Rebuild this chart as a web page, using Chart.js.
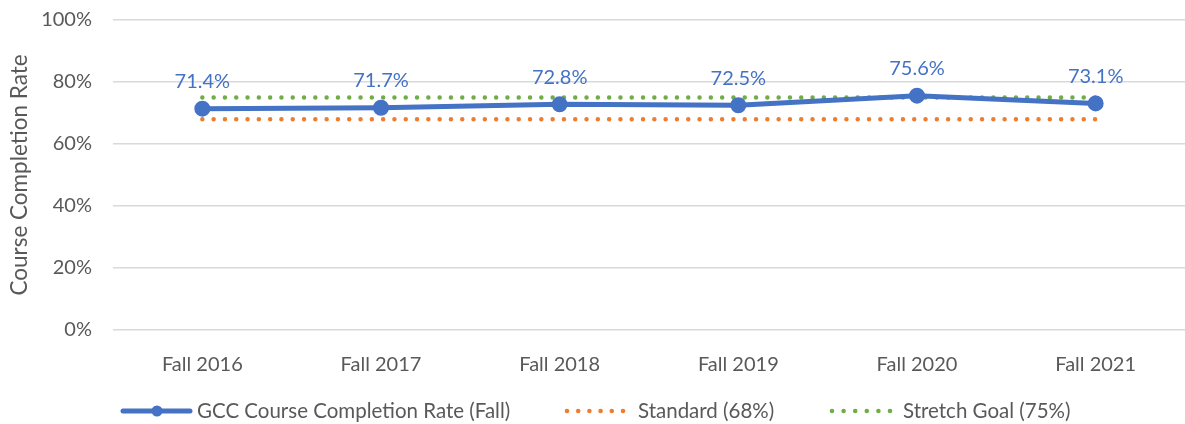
<!DOCTYPE html>
<html>
<head>
<meta charset="utf-8">
<script src="https://cdn.jsdelivr.net/npm/chart.js@4.4.0/dist/chart.umd.min.js"></script>
<style>
  html, body { margin: 0; padding: 0; background: #fff; overflow: hidden; }
  canvas { display: block; }
</style>
</head>
<body>
<canvas id="line-chart" width="1185" height="424"></canvas>
<script>
var terms = ['Fall 2016', 'Fall 2017', 'Fall 2018', 'Fall 2019', 'Fall 2020', 'Fall 2021'];
var completion = [71.4, 71.7, 72.8, 72.5, 75.6, 73.1];
var standard = [68, 68, 68, 68, 68, 68];
var stretch = [75, 75, 75, 75, 75, 75];
var yTicks = [0, 20, 40, 60, 80, 100];

var blue = '#4472C4', orange = '#ED7D31', green = '#70AD47', grey = '#595959';
var font = 'Lato, "Open Sans", sans-serif';

// value labels above the blue line
var valueLabels = {
  id: 'valueLabels',
  afterDatasetsDraw: function (chart) {
    var meta = chart.getDatasetMeta(0);
    var ctx = chart.ctx;
    ctx.save();
    ctx.font = '20px ' + font;
    ctx.fillStyle = blue;
    ctx.textAlign = 'center';
    ctx.textBaseline = 'bottom';
    meta.data.forEach(function (pt, i) {
      ctx.fillText(completion[i].toFixed(1) + '%', pt.x, pt.y - 17);
    });
    ctx.restore();
  }
};

// legend row at the bottom, drawn by hand so the spacing matches
var legendRow = {
  id: 'legendRow',
  afterDraw: function (chart) {
    var ctx = chart.ctx;
    var y = 411;
    var items = [
      { x: 123, w: 67, tx: 197, color: blue, dotted: false },
      { x: 567, w: 56, tx: 638, color: orange, dotted: true },
      { x: 832, w: 58, tx: 903, color: green, dotted: true }
    ];
    ctx.save();
    items.forEach(function (it, i) {
      ctx.strokeStyle = it.color;
      ctx.fillStyle = it.color;
      if (it.dotted) {
        for (var k = 0; k < 6; k++) {
          ctx.beginPath(); ctx.arc(it.x + k * it.w / 5, y, 2.3, 0, Math.PI * 2); ctx.fill();
        }
      } else {
        ctx.lineWidth = 5; ctx.lineCap = 'round';
        ctx.beginPath(); ctx.moveTo(it.x, y); ctx.lineTo(it.x + it.w, y); ctx.stroke();
        ctx.beginPath(); ctx.arc(157, y, 5.5, 0, Math.PI * 2); ctx.fill();
      }
      ctx.fillStyle = grey;
      ctx.font = '20.5px ' + font;
      ctx.textAlign = 'left';
      ctx.textBaseline = 'middle';
      ctx.fillText(chart.data.datasets[i].label, it.tx, y);
    });
    ctx.restore();
  }
};

var data = {
  labels: terms,
  datasets: [
    {
      label: 'GCC Course Completion Rate (Fall)',
      data: completion,
      borderColor: blue,
      backgroundColor: blue,
      borderWidth: 5,
      pointRadius: 5.5,
      pointHoverRadius: 5.5,
      tension: 0,
      order: 0
    },
    {
      label: 'Standard (68%)',
      data: standard,
      borderColor: orange,
      borderWidth: 4.5,
      borderDash: [0, 11.3],
      borderCapStyle: 'round',
      pointRadius: 0,
      order: 2
    },
    {
      label: 'Stretch Goal (75%)',
      data: stretch,
      borderColor: green,
      borderWidth: 4.5,
      borderDash: [0, 11.3],
      borderCapStyle: 'round',
      pointRadius: 0,
      order: 1
    }
  ]
};

var config = {
  type: 'line',
  data: data,
  plugins: [valueLabels, legendRow],
  options: {
    responsive: false,
    animation: false,
    layout: { autoPadding: false, padding: { top: 20, right: -7, left: 0, bottom: 50 } },
    plugins: {
      tooltip: { enabled: false },
      legend: { display: false }
    },
    scales: {
      x: {
        offset: true,
        grid: { display: false },
        border: { display: false },
        ticks: { color: grey, font: { family: font, size: 20 }, padding: 15 },
        afterFit: function (axis) {
          axis.height = 44;
          axis.paddingLeft = 0;
          axis.paddingRight = 0;
        }
      },
      y: {
        min: 0,
        max: 100,
        afterBuildTicks: function (axis) {
          axis.ticks = yTicks.map(function (v) { return { value: v }; });
        },
        afterFit: function (axis) {
          axis.width = 113;
          axis.paddingTop = 0;
          axis.paddingBottom = 0;
        },
        grid: { color: '#d9d9d9', lineWidth: 1.5, drawTicks: false },
        border: { display: false },
        ticks: {
          color: grey,
          padding: 21,
          font: { family: font, size: 20 },
          callback: function (v) { return v + '%'; }
        },
        title: {
          display: true,
          text: 'Course Completion Rate',
          color: grey,
          font: { family: font, size: 22.5 },
          padding: { top: 6, bottom: 0 }
        }
      }
    }
  }
};

var ctx = document.getElementById('line-chart').getContext('2d');
new Chart(ctx, config);
</script>
</body>
</html>
